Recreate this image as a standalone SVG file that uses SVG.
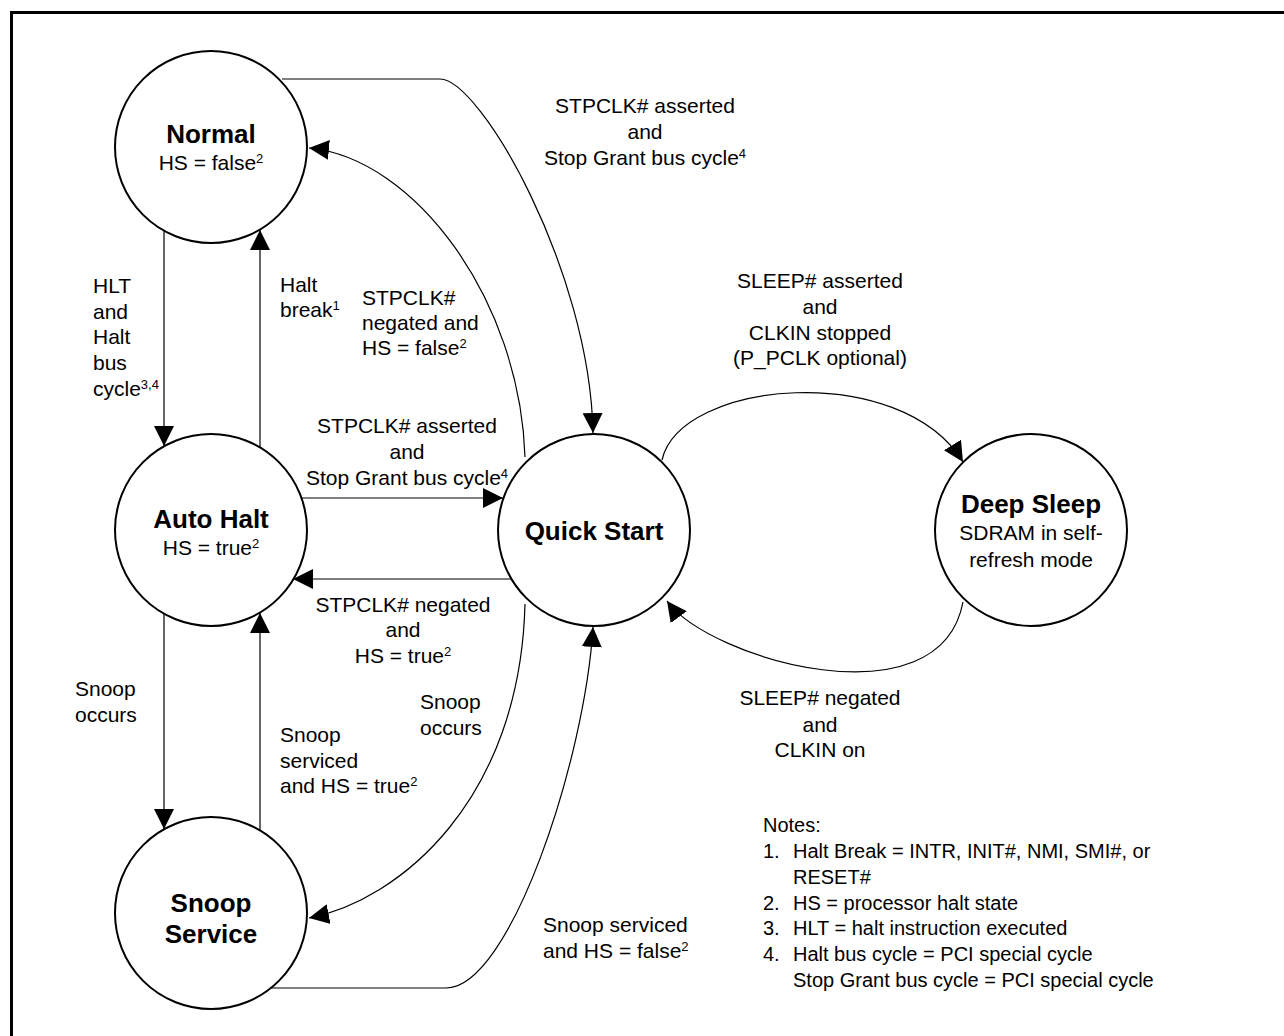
<svg xmlns="http://www.w3.org/2000/svg" width="1284" height="1036" viewBox="0 0 1284 1036">
<style>
text{font-family:"Liberation Sans",Arial,sans-serif;font-size:21px;fill:#000}
.t{font-weight:bold;font-size:26px}
.n{font-size:20px}
.s{font-size:13px}
.node{fill:#fff;stroke:#000;stroke-width:2}
.c{fill:none;stroke:#000;stroke-width:1.2}
</style>
<defs>
<marker id="a" markerUnits="userSpaceOnUse" markerWidth="20" markerHeight="20" refX="20" refY="10" orient="auto" viewBox="0 0 20 20">
<path d="M0,0 L20,10 L0,20 z" fill="#000"/>
</marker>
</defs>
<rect x="11.5" y="12.5" width="1290" height="1040" fill="#fff" stroke="#000" stroke-width="3"/>
<g id="connectors">
<path class="c" d="M164,231 L164,446" marker-end="url(#a)"/>
<path class="c" d="M260,447 L260,230" marker-end="url(#a)"/>
<path class="c" d="M164,614 L164,829" marker-end="url(#a)"/>
<path class="c" d="M260,830 L260,613" marker-end="url(#a)"/>
<path class="c" d="M302,498 L503,498" marker-end="url(#a)"/>
<path class="c" d="M512,579 L293,579" marker-end="url(#a)"/>
<path class="c" d="M282,79 L440,79 C480,79 590,270 593,433" marker-end="url(#a)"/>
<path class="c" d="M525,457 C520,300 415,158 309,148" marker-end="url(#a)"/>
<path class="c" d="M662,460 C680,380 900,360 963,462" marker-end="url(#a)"/>
<path class="c" d="M963,602 C940,725 710,660 667,601" marker-end="url(#a)"/>
<path class="c" d="M525,604 C520,800 400,900 309,918" marker-end="url(#a)"/>
<path class="c" d="M271,988 L446,988 C510,988 585,760 593,627" marker-end="url(#a)"/>
</g>
<g id="normal">
<circle class="node" cx="211" cy="147" r="96"/>
<text class="t" x="211" y="143" text-anchor="middle">Normal</text>
<text x="211" y="170" text-anchor="middle">HS = false<tspan class="s" dy="-7">2</tspan></text>
</g>
<g id="autohalt">
<circle class="node" cx="211" cy="530" r="96"/>
<text class="t" x="211" y="528" text-anchor="middle">Auto Halt</text>
<text x="211" y="555" text-anchor="middle">HS = true<tspan class="s" dy="-7">2</tspan></text>
</g>
<g id="snoopservice">
<circle class="node" cx="211" cy="913" r="96"/>
<text class="t" x="211" y="912" text-anchor="middle">Snoop</text>
<text class="t" x="211" y="943" text-anchor="middle">Service</text>
</g>
<g id="quickstart">
<circle class="node" cx="594" cy="530" r="96"/>
<text class="t" x="594" y="540" text-anchor="middle">Quick Start</text>
</g>
<g id="deepsleep">
<circle class="node" cx="1031" cy="530" r="96"/>
<text class="t" x="1031" y="513" text-anchor="middle">Deep Sleep</text>
<text x="1031" y="540" text-anchor="middle">SDRAM in self-</text>
<text x="1031" y="567" text-anchor="middle">refresh mode</text>
</g>
<g id="labels">
<text x="645" y="113" text-anchor="middle">STPCLK# asserted</text>
<text x="645" y="139" text-anchor="middle">and</text>
<text x="645" y="165" text-anchor="middle">Stop Grant bus cycle<tspan class="s" dy="-7">4</tspan></text>
<text x="93" y="293">HLT</text>
<text x="93" y="319">and</text>
<text x="93" y="344">Halt</text>
<text x="93" y="370">bus</text>
<text x="93" y="396">cycle<tspan class="s" dy="-7">3,4</tspan></text>
<text x="280" y="292">Halt</text>
<text x="280" y="317">break<tspan class="s" dy="-7">1</tspan></text>
<text x="362" y="305">STPCLK#</text>
<text x="362" y="330">negated and</text>
<text x="362" y="355">HS = false<tspan class="s" dy="-7">2</tspan></text>
<text x="820" y="288" text-anchor="middle">SLEEP# asserted</text>
<text x="820" y="314" text-anchor="middle">and</text>
<text x="820" y="340" text-anchor="middle">CLKIN stopped</text>
<text x="820" y="365" text-anchor="middle">(P_PCLK optional)</text>
<text x="407" y="433" text-anchor="middle">STPCLK# asserted</text>
<text x="407" y="459" text-anchor="middle">and</text>
<text x="407" y="485" text-anchor="middle">Stop Grant bus cycle<tspan class="s" dy="-7">4</tspan></text>
<text x="403" y="612" text-anchor="middle">STPCLK# negated</text>
<text x="403" y="637" text-anchor="middle">and</text>
<text x="403" y="663" text-anchor="middle">HS = true<tspan class="s" dy="-7">2</tspan></text>
<text x="75" y="696">Snoop</text>
<text x="75" y="722">occurs</text>
<text x="280" y="742">Snoop</text>
<text x="280" y="768">serviced</text>
<text x="280" y="793">and HS = true<tspan class="s" dy="-7">2</tspan></text>
<text x="420" y="709">Snoop</text>
<text x="420" y="735">occurs</text>
<text x="820" y="705" text-anchor="middle">SLEEP# negated</text>
<text x="820" y="732" text-anchor="middle">and</text>
<text x="820" y="757" text-anchor="middle">CLKIN on</text>
<text x="543" y="932">Snoop serviced</text>
<text x="543" y="958">and HS = false<tspan class="s" dy="-7">2</tspan></text>
</g>
<g id="notes">
<text class="n" x="763" y="832">Notes:</text>
<text class="n" x="763" y="858">1.</text>
<text class="n" x="793" y="858">Halt Break = INTR, INIT#, NMI, SMI#, or</text>
<text class="n" x="793" y="884">RESET#</text>
<text class="n" x="763" y="910">2.</text>
<text class="n" x="793" y="910">HS = processor halt state</text>
<text class="n" x="763" y="935">3.</text>
<text class="n" x="793" y="935">HLT = halt instruction executed</text>
<text class="n" x="763" y="961">4.</text>
<text class="n" x="793" y="961">Halt bus cycle = PCI special cycle</text>
<text class="n" x="793" y="987">Stop Grant bus cycle = PCI special cycle</text>
</g>
</svg>
